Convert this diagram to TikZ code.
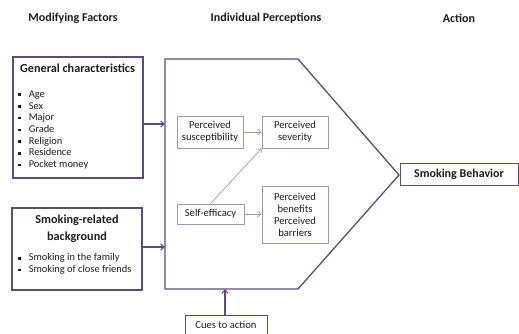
\documentclass[tikz,border=0pt]{standalone}
\usepackage{fontspec}
\setmainfont{Carlito}
\usetikzlibrary{arrows.meta}
\definecolor{frame}{HTML}{5E4A7D}
\definecolor{soft}{HTML}{A394BE}
\definecolor{ink}{HTML}{1E1E1E}
\newcommand\sqb{\raisebox{1.3pt}{\rule{2.6pt}{2.6pt}}\hspace{8pt}}
\begin{document}
\begin{tikzpicture}[x=1pt,y=-1pt,
  every node/.style={text=ink},
  header/.style={font=\fontsize{12}{14}\selectfont\bfseries},
  outerbox/.style={draw=frame,line width=1.1pt,inner sep=0pt},
  innerbox/.style={draw=soft,line width=0.7pt,align=center,inner sep=0pt,
    font=\fontsize{10.6}{12}\selectfont},
  outerarrow/.style={draw=frame,line width=1.1pt,-{Straight Barb[length=3.5pt,width=6pt]}},
  innerarrow/.style={draw=soft,line width=0.7pt,-{Straight Barb[length=3.5pt,width=6pt]}},
  listtext/.style={font=\fontsize{10.4}{11.7}\selectfont,align=left,inner sep=0pt,anchor=north west}]
\clip (0,0) rectangle (519,333);
\fill[white] (0,0) rectangle (519,333);

% column headers
\node[header] (hMod) at (73,18) {Modifying Factors};
\node[header] (hInd) at (266,18) {Individual Perceptions};
\node[header] (hAct) at (459,18) {Action};

% modifying factors
\node[outerbox,minimum width=130,minimum height=121] (gen) at (78,117.5) {};
\node[font=\fontsize{12.2}{14}\selectfont\bfseries,anchor=west,inner sep=0pt] (genT) at (20,68) {General characteristics};
\node[listtext] (genL) at (18,90.5) {\sqb Age\\ \sqb Sex\\ \sqb Major\\ \sqb Grade\\ \sqb Religion\\ \sqb Residence\\ \sqb Pocket money};

\node[outerbox,minimum width=130,minimum height=82] (smk) at (77,249) {};
\node[font=\fontsize{12.2}{16.5}\selectfont\bfseries,align=center,inner sep=0pt] (smkT) at (77,228.5) {Smoking-related\\background};
\node[listtext] (smkL) at (18,253.5) {\sqb Smoking in the family\\ \sqb Smoking of close friends};

% individual perceptions frame
\draw[frame,line width=1.3pt,line join=miter]
  (165,59) -- (298,59) -- (399,175) -- (298,289) -- (165,289) -- cycle;
\coordinate (inGen) at (165,124);
\coordinate (inSmk) at (165,247);
\coordinate (inCue) at (225,289);
\coordinate (tip) at (399,175);

\node[innerbox,minimum width=66,minimum height=32] (sus) at (210,132) {Perceived\\susceptibility};
\node[innerbox,minimum width=66,minimum height=32] (sev) at (295,132) {Perceived\\severity};
\node[innerbox,minimum width=67,minimum height=20] (self) at (210.5,214) {Self-efficacy};
\node[innerbox,minimum width=66,minimum height=57] (ben) at (295,214.5) {Perceived\\benefits\\Perceived\\barriers};

\draw[innerarrow] (sus.east) -- (sev.west);
\draw[innerarrow] (self.east) -- (self.east -| ben.west);
\draw[innerarrow] (self.north) -- (sev.south west);

% action
\node[outerbox,line width=0.9pt,minimum width=118,minimum height=22,
  font=\fontsize{12}{14}\selectfont\bfseries] (act) at (459,174) {Smoking Behavior};

% cues
\node[outerbox,line width=0.9pt,minimum width=82,minimum height=30,anchor=north] (cue) at (226,315) {};
\node[font=\fontsize{10.6}{12}\selectfont,inner sep=0pt] (cueT) at (226,325) {Cues to action};

% connectors
\draw[outerarrow] (gen.east |- inGen) -- (inGen);
\draw[outerarrow] (smk.east |- inSmk) -- (inSmk);
\draw[outerarrow] (cue.north -| inCue) -- (inCue);
\end{tikzpicture}
\end{document}
